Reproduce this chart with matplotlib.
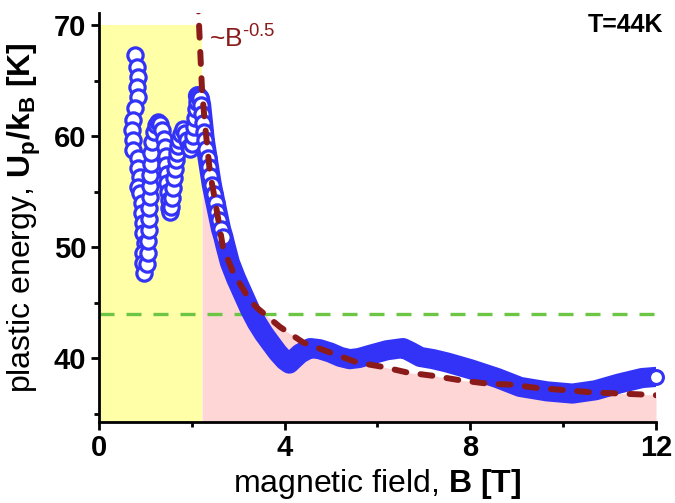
import matplotlib
matplotlib.use("Agg")
import matplotlib.pyplot as plt
from matplotlib.ticker import MultipleLocator

# ---------------- data ----------------
B_data = [0.78, 0.82, 0.84, 0.82, 0.84, 0.78, 0.73, 0.71, 0.73, 0.73, 0.84, 0.84,
          0.88, 0.84, 0.88, 0.93, 0.93, 0.95, 0.95, 0.99, 0.95, 0.95, 0.96,
          1.03, 1.05, 1.06, 1.07, 1.08, 1.08, 1.09, 1.10, 1.10, 1.11, 1.13, 1.15,
          1.18, 1.22, 1.27, 1.32, 1.36, 1.39, 1.42, 1.44, 1.45, 1.46, 1.47, 1.48,
          1.50, 1.51, 1.52,
          1.55, 1.58, 1.60, 1.62, 1.64, 1.66, 1.68, 1.70, 1.73, 1.77, 1.81, 1.85,
          1.89, 1.93, 1.97,
          2.00, 2.03, 2.05, 2.07, 2.09, 2.11, 2.13,
          2.17, 2.20, 2.22, 2.24, 2.26, 2.28, 2.31, 2.34, 2.37, 2.40, 2.43, 2.47,
          2.51, 2.55, 2.59, 2.63, 2.68,
          2.72, 2.82, 2.95, 3.10, 3.25, 3.40, 3.55, 3.69, 3.85, 4.00, 4.10, 4.20,
          4.33, 4.55, 4.75, 4.98, 5.20, 5.40, 5.60, 5.85, 6.20, 6.55, 6.70, 6.92,
          7.20, 7.50, 8.00, 8.58, 9.07, 9.65, 10.20, 10.70, 11.20, 11.70, 12.00]
U_data = [67.3, 66.2, 65.3, 64.4, 63.5, 62.5, 61.4, 60.5, 59.6, 58.7, 58.0, 57.1,
          56.3, 55.4, 54.9, 54.0, 53.1, 52.2, 51.3, 50.4, 49.5, 48.6, 47.7,
          48.5, 49.5, 50.5, 51.5, 52.5, 53.5, 54.5, 55.5, 56.5, 57.5, 58.5, 59.5,
          60.4, 61.0, 61.3, 61.1, 60.5, 59.7, 59.0, 58.2, 57.4, 56.6, 55.8, 55.0,
          54.2, 53.5, 53.2,
          53.6, 54.4, 55.3, 56.2, 57.0, 57.8, 58.5, 59.1, 59.6, 60.2, 60.6, 60.3,
          59.6, 59.0, 58.8,
          59.3, 60.0, 60.8, 61.6, 62.4, 63.1, 63.6,
          63.4, 62.8, 62.0, 61.2, 60.4, 59.6, 58.8, 58.0, 57.2, 56.4, 55.6, 54.8,
          54.0, 53.2, 52.4, 51.6, 50.9,
          50.2, 48.6, 47.2, 45.8, 44.4, 43.2, 42.2, 41.4, 40.5, 39.8, 39.5, 39.9,
          40.4, 40.9, 40.8, 40.5, 40.1, 39.9, 40.0, 40.3, 40.7, 40.9, 40.6, 40.1,
          39.9, 39.6, 39.0, 38.2, 37.4, 37.0, 36.8, 37.1, 37.7, 38.2, 38.3]

# fit curve ~B^-0.5
B_fit = [2.13, 2.22, 2.28, 2.39, 2.50, 2.67, 2.89, 3.25, 3.41, 3.90, 4.40, 4.98,
         5.56, 6.12, 6.64, 7.20, 7.78, 8.36, 8.92, 9.44, 10.09, 10.65, 11.23, 11.81, 12.0]
U_fit = [72.3, 64.1, 61.2, 56.7, 54.2, 50.0, 47.7, 45.2, 44.5, 42.8, 41.4, 40.5,
         39.6, 39.2, 38.7, 38.4, 38.0, 37.7, 37.6, 37.3, 37.1, 36.9, 36.8, 36.7, 36.65]

T_level = 44.0          # horizontal line, T = 44 K
B_cross = 2.22          # end of the yellow region
U_yellow_top = 70.0

x_ticks = [0, 4, 8, 12]
y_ticks = [40, 50, 60, 70]

# ---------------- style ----------------
plt.rcParams['font.family'] = ['Liberation Sans', 'DejaVu Sans']
plt.rcParams['mathtext.fontset'] = 'custom'
plt.rcParams['mathtext.rm'] = 'Liberation Sans'
plt.rcParams['mathtext.it'] = 'Liberation Sans:italic'
plt.rcParams['mathtext.bf'] = 'Liberation Sans:bold'

BLUE = '#3333f8'
DARKRED = '#8b1a1a'
GREEN = '#6cc644'
YELLOW = '#ffffa8'
PINK = '#ffd6d6'

fig = plt.figure(figsize=(6.75, 5.03), dpi=100)
ax = fig.add_axes([99 / 675, 1 - 422 / 503, (656 - 99) / 675, (422 - 13) / 503])
y_lo, y_hi = 34.24, 71.08
ax.set_xlim(0, 12)
ax.set_ylim(y_lo, y_hi)

# shaded regions
ax.fill_between([0, B_cross], y_lo, U_yellow_top, color=YELLOW, lw=0, zorder=0)
Bf_fill = [b for b in B_fit if b >= B_cross]
Uf_fill = [u for b, u in zip(B_fit, U_fit) if b >= B_cross]
ax.fill_between(Bf_fill, y_lo, Uf_fill, color=PINK, lw=0, zorder=0)

# T = 44 K line
gl, = ax.plot([0, 12], [T_level, T_level], color=GREEN, lw=2.4, zorder=1)
gl.set_dashes([4.5, 3.6])

# data: open circles in the oscillating region, dense band above
n_open = B_data.index(2.68) + 1
n_peak = B_data.index(2.13)
ax.plot(B_data[n_peak:], U_data[n_peak:], color=BLUE, lw=14.5,
        solid_capstyle='round', solid_joinstyle='round', zorder=3)
ax.plot(B_data[:n_open], U_data[:n_open], 'o', ms=11, mfc='white', mec=BLUE,
        mew=2.3, ls='none', zorder=4)
ax.plot(B_data[-1:], U_data[-1:], 'o', ms=10, mfc='white', mec=BLUE,
        mew=2.2, ls='none', zorder=5, clip_on=False)

# fit line
fl, = ax.plot(B_fit, U_fit, color=DARKRED, lw=4.3, dash_capstyle='round', zorder=6)
fl.set_dashes([2.0, 2.4])

# annotations
ax.text(2.38, 68.0, r'~B$^{\text{-0.5}}$', color=DARKRED, fontsize=19,
        va='baseline', ha='left', zorder=7)
ax.text(12.15, 71.1, 'T=44K', fontsize=18, fontweight='bold', ha='right', va='top',
        zorder=7)

# axes
for s in ['top', 'right']:
    ax.spines[s].set_visible(False)
for s in ['left', 'bottom']:
    ax.spines[s].set_linewidth(2.0)
ax.set_xticks(x_ticks)
ax.set_yticks(y_ticks)
ax.xaxis.set_minor_locator(MultipleLocator(2))
ax.yaxis.set_minor_locator(MultipleLocator(5))
ax.tick_params(which='major', direction='out', length=6, width=2, labelsize=21, pad=3)
ax.tick_params(which='minor', direction='out', length=3.5, width=2)
for lab in ax.get_xticklabels() + ax.get_yticklabels():
    lab.set_fontweight('bold')

ax.set_xlabel(r'magnetic field, $\mathbf{B\ [T]}$', fontsize=23, labelpad=3)
ax.set_ylabel(r'plastic energy, $\mathbf{U_p/k_B\ [K]}$', fontsize=23, labelpad=8)

fig.savefig('out.png', dpi=100)
